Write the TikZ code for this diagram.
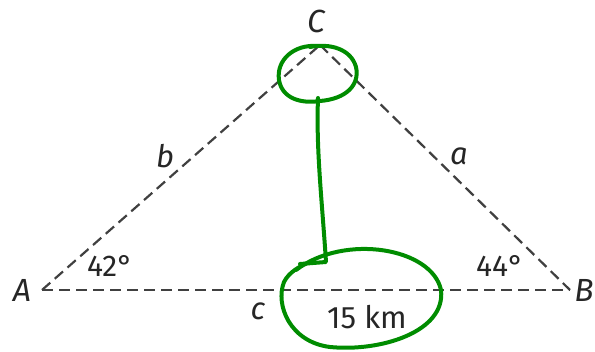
\documentclass[tikz,border=0pt]{standalone}
\usepackage{fontspec}
\setmainfont{Fira Sans}
\usetikzlibrary{positioning}
\tikzset{
  side/.style={dashed, dash pattern=on 11pt off 6pt, line width=2.2pt, draw=black!75},
  vlabel/.style={font=\fontsize{32}{34}\selectfont\itshape, text=black!85, inner sep=0pt},
  slabel/.style={font=\fontsize{31}{33}\selectfont\itshape, text=black!85, inner sep=0pt},
  anglabel/.style={font=\fontsize{30}{32}\selectfont, text=black!85, inner sep=0pt},
  greenmark/.style={draw=green!55!black, line width=4pt, line cap=round, line join=round},
}

\begin{document}
\begin{tikzpicture}[x=1pt, y=-1pt]
  \useasboundingbox (0,0) rectangle (595,352);

  % Vertices
  \coordinate (A) at (42,290);
  \coordinate (B) at (570,290);
  \coordinate (C) at (320,45);

  % Sides
  \draw[side] (A) -- (C);
  \draw[side] (C) -- (B);
  \draw[side] (A) -- (B);

  % Vertex labels
  \node[vlabel] (lA) at (22,290) {A};
  \node[vlabel] (lB) at (584,290) {B};
  \node[vlabel] (lC) at (316,21) {C};

  % Side labels
  \node[slabel] (la) at (459,156) {a};
  \node[slabel] (lb) at (165,156) {b};
  \node[slabel] (lc) at (258,311) {c};

  % Angles and length
  \node[anglabel] (angA) at (110,266) {42°};
  \node[anglabel] (angB) at (500,266) {44°};
  \node[anglabel, font=\fontsize{31}{33}\selectfont] (len) at (367,317) {15 km};

  % Green marks
  \draw[greenmark] (318,46) .. controls (294,44) and (276,60) .. (279,80)
    .. controls (282,98) and (300,104) .. (320,101)
    .. controls (346,99) and (360,85) .. (356,67)
    .. controls (351,49) and (330,43) .. (310,47);
  \draw[greenmark] (318,98) .. controls (316,150) and (322,200) .. (326,262)
    -- (300,264);
  \draw[greenmark] (296,270) .. controls (345,233) and (432,248) .. (441,290)
    .. controls (446,332) and (380,352) .. (330,347)
    .. controls (290,342) and (275,305) .. (284,282)
    .. controls (289,272) and (300,266) .. (310,262);
\end{tikzpicture}
\end{document}
